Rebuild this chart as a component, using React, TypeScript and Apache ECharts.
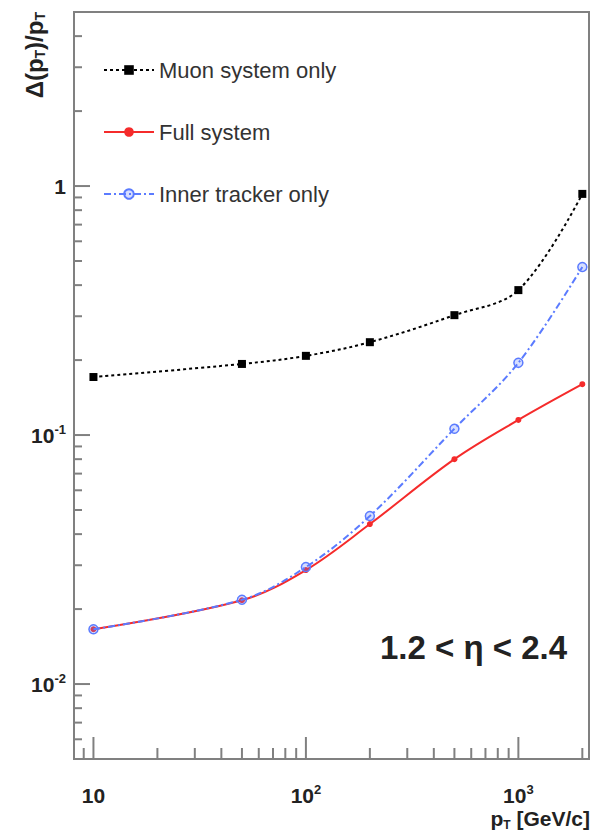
import React, { useEffect, useRef } from 'react';
import * as echarts from 'echarts';

// ---- data ----
const ptValues = [10, 50, 100, 200, 500, 1000, 2000];
const muonOnly = [0.171, 0.193, 0.208, 0.236, 0.303, 0.382, 0.93];
const fullSystem = [0.0166, 0.0217, 0.0287, 0.0439, 0.08, 0.115, 0.16];
const innerTracker = [0.0166, 0.0218, 0.0295, 0.0473, 0.106, 0.195, 0.473];
const seriesNames = ['Muon system only', 'Full system', 'Inner tracker only'];

const xRange = [8.1, 2150];
const yRange = [0.005, 5];
const xMajorTicks = [10, 100, 1000];
const xMinorTicks = [9, 20, 30, 40, 50, 60, 70, 80, 90, 200, 300, 400, 500, 600, 700, 800, 900, 2000];
const yMajorTicks = [0.01, 0.1, 1];
const yMinorTicks = [
  0.006, 0.007, 0.008, 0.009,
  0.02, 0.03, 0.04, 0.05, 0.06, 0.07, 0.08, 0.09,
  0.2, 0.3, 0.4, 0.5, 0.6, 0.7, 0.8, 0.9,
  2, 3, 4,
];
const regionLabel = '1.2 < η < 2.4';

const FONT = "'Liberation Sans', Arial, Helvetica, sans-serif";
const AXIS_GREY = '#808080';

function powLabel(v: number): string {
  const e = Math.log10(v);
  const r = Math.round(e);
  if (Math.abs(e - r) > 1e-6) return '';
  if (r === 0) return '{b|1}';
  if (r === 1) return '{b|10}';
  return '{b|10}{s|' + r + '}';
}

const labelRich = {
  b: { fontSize: 21, fontWeight: 'bold', fontFamily: FONT, color: '#222', lineHeight: 24 },
  s: { fontSize: 13, fontWeight: 'bold', fontFamily: FONT, color: '#222', padding: [0, 0, 12, 0] },
};

export default function App() {
  const ref = useRef<HTMLDivElement>(null);
  useEffect(() => {
    document.body.style.margin = '0';
    if (!ref.current) return;
    const chart = echarts.init(ref.current, null, { renderer: 'svg' });

    const pairs = (ys: number[]) => ptValues.map((x, i) => [x, ys[i]]);
    const xTickData = [
      ...xMajorTicks.map((v) => [v, yRange[0], 1]),
      ...xMinorTicks.map((v) => [v, yRange[0], 0]),
    ];
    const yTickData = [
      ...yMajorTicks.map((v) => [xRange[0], v, 1]),
      ...yMinorTicks.map((v) => [xRange[0], v, 0]),
    ];

    chart.setOption({
      animation: false,
      backgroundColor: '#fff',
      grid: {
        left: 74, top: 12, right: 3, bottom: 78,
        show: true, borderColor: AXIS_GREY, borderWidth: 2, backgroundColor: 'transparent',
      },
      legend: {
        data: seriesNames,
        orient: 'vertical',
        left: 98,
        top: 54,
        itemGap: 40,
        itemWidth: 50,
        itemHeight: 12,
        textStyle: { fontSize: 22, color: '#333', fontFamily: FONT, lineHeight: 22 },
      },
      xAxis: {
        type: 'log',
        logBase: 10,
        min: xRange[0],
        max: xRange[1],
        axisLine: { show: true, lineStyle: { color: AXIS_GREY, width: 2 } },
        axisTick: { show: false },
        splitLine: { show: false },
        axisLabel: { formatter: powLabel, rich: labelRich, margin: 24, showMinLabel: false, showMaxLabel: false },
      },
      yAxis: {
        type: 'log',
        logBase: 10,
        min: yRange[0],
        max: yRange[1],
        axisLine: { show: true, lineStyle: { color: AXIS_GREY, width: 2 } },
        axisTick: { show: false },
        splitLine: { show: false },
        axisLabel: { formatter: powLabel, rich: labelRich, margin: 8, showMinLabel: false, showMaxLabel: false },
      },
      series: [
        {
          name: seriesNames[0],
          type: 'line',
          data: pairs(muonOnly),
          smooth: 0.35,
          symbol: 'rect',
          symbolSize: 8,
          itemStyle: { color: '#000' },
          lineStyle: { color: '#000', width: 2, type: [3, 3] },
          z: 3,
        },
        {
          name: seriesNames[1],
          type: 'line',
          data: pairs(fullSystem),
          smooth: 0.35,
          symbol: 'circle',
          symbolSize: 6,
          itemStyle: { color: '#f52b2b' },
          lineStyle: { color: '#f52b2b', width: 2 },
          z: 3,
        },
        {
          name: seriesNames[2],
          type: 'line',
          data: pairs(innerTracker),
          smooth: 0.35,
          symbol: 'circle',
          symbolSize: 9,
          itemStyle: { color: 'rgba(91,123,255,0.25)', borderColor: '#5b7bff', borderWidth: 1.5 },
          lineStyle: { color: '#5b7bff', width: 2, type: [7, 3, 2, 3] },
          z: 4,
        },
        {
          name: 'xticks',
          type: 'custom',
          data: xTickData,
          encode: { x: 0, y: 1 },
          silent: true,
          clip: false,
          renderItem: (params: any, api: any) => {
            const p = api.coord([api.value(0), api.value(1)]);
            const len = api.value(2) ? 22 : 11;
            return {
              type: 'line',
              shape: { x1: p[0], y1: p[1], x2: p[0], y2: p[1] - len },
              style: { stroke: AXIS_GREY, lineWidth: 2 },
            };
          },
          z: 2,
        },
        {
          name: 'yticks',
          type: 'custom',
          data: yTickData,
          encode: { x: 0, y: 1 },
          silent: true,
          clip: false,
          renderItem: (params: any, api: any) => {
            const p = api.coord([api.value(0), api.value(1)]);
            const len = api.value(2) ? 16 : 8;
            return {
              type: 'line',
              shape: { x1: p[0], y1: p[1], x2: p[0] + len, y2: p[1] },
              style: { stroke: AXIS_GREY, lineWidth: 2 },
            };
          },
          z: 2,
        },
      ],
      graphic: [
        {
          type: 'text',
          x: 34,
          y: 12,
          rotation: Math.PI / 2,
          style: {
            text: 'Δ(p{s|T})/p{s|T}',
            font: 'bold 24px ' + FONT,
            fill: '#222',
            align: 'right',
            verticalAlign: 'middle',
            rich: {
              s: { fontSize: 14, fontWeight: 'bold', fontFamily: FONT, fill: '#222', padding: [12, 0, 0, 0] },
            },
          },
        },
        {
          type: 'text',
          right: 2,
          top: 808,
          style: {
            text: 'p{s|T} [GeV/c]',
            font: 'bold 21px ' + FONT,
            fill: '#222',
            rich: {
              s: { fontSize: 12, fontWeight: 'bold', fontFamily: FONT, fill: '#222', padding: [12, 0, 0, 0] },
            },
          },
        },
        {
          type: 'text',
          left: 380,
          top: 631,
          style: {
            text: regionLabel,
            font: 'bold 33px ' + FONT,
            fill: '#222',
          },
        },
      ],
    });
    return () => chart.dispose();
  }, []);
  return <div ref={ref} style={{ width: 592, height: 837 }} />;
}
